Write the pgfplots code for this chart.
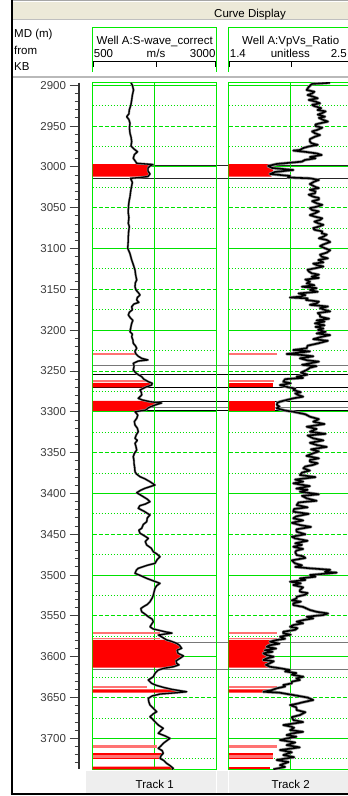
\documentclass[border=0pt]{standalone}
\usepackage{pgfplots}
\usepackage{pgfplotstable}
\pgfplotsset{compat=1.18}
\usepackage{fontspec}
\setmainfont{Liberation Sans}

\definecolor{gridgreen}{RGB}{0,225,0}
\definecolor{framegreen}{RGB}{0,235,0}
\definecolor{flagred}{RGB}{255,0,0}
\definecolor{lightred}{RGB}{255,115,115}
\definecolor{barbeige}{RGB}{236,233,216}
\definecolor{labgray}{RGB}{60,60,60}
\definecolor{markgray}{RGB}{120,120,120}
\definecolor{footgray}{RGB}{238,238,238}
\definecolor{halogray}{RGB}{150,150,150}

% S-wave velocity (m/s) against measured depth (m)
\pgfplotstableread{
depth vs
2897 1272
2900 1300
2905.8 1323
2912 1300
2918 1286
2924 1270
2930.3 1238
2935 1230
2938.5 1185
2942 1230
2946.6 1252
2952 1240
2958.8 1252
2964 1275
2969.1 1286
2974.4 1272
2978 1330
2981.4 1403
2985 1340
2989.5 1318
2993 1360
2995.6 1387
2997.1 1716
2998.9 1655
3001.3 1615
3005 1615
3008.7 1655
3011.8 1615
3013 1454
3014 1262
3019 1300
3024.3 1282
3030 1265
3036.5 1252
3040.5 1238
3046 1225
3052.8 1218
3056.8 1218
3062 1230
3069.1 1218
3073.3 1238
3079 1225
3085.5 1218
3092 1215
3099.7 1206
3106 1250
3114 1286
3120 1320
3126.3 1353
3132 1365
3138.5 1387
3142 1360
3146.8 1353
3150.8 1373
3154 1420
3156.9 1454
3160 1400
3163 1387
3166 1430
3168 1330
3171.3 1286
3175 1300
3178 1240
3181.4 1218
3185 1260
3188 1310
3191.6 1286
3196 1270
3201.9 1252
3205 1300
3208 1286
3212 1310
3216.1 1318
3219 1360
3222.2 1387
3226 1350
3229.2 1373
3232 1420
3234.5 1488
3236.5 1615
3237.8 1419
3240.6 1318
3244 1335
3248.8 1318
3253 1380
3257 1488
3260 1530
3263.1 1621
3265 1700
3267.2 1689
3270 1560
3273.3 1454
3276 1480
3279.4 1488
3283.5 1419
3285.5 1500
3287.6 1655
3289.2 1891
3291.7 1756
3293.5 1680
3295.3 1615
3297.8 1575
3299.9 1353
3304 1410
3308 1387
3312 1340
3316.2 1353
3320 1400
3324.4 1419
3328 1380
3332.5 1353
3335 1400
3338.6 1353
3342 1370
3346.8 1387
3351 1340
3355 1318
3359 1330
3363.1 1333
3368 1345
3373.4 1353
3376 1380
3379.5 1454
3382 1550
3385.6 1655
3389.7 1756
3393.7 1554
3396 1470
3399.1 1387
3401 1440
3404 1520
3407 1600
3410.1 1655
3413 1560
3415 1450
3418.2 1419
3422 1540
3426.4 1655
3430 1600
3434.6 1589
3438 1520
3442.7 1488
3445 1430
3448.8 1454
3451 1520
3455 1621
3459 1560
3463.2 1589
3467 1680
3471.4 1722
3474 1790
3477.5 1857
3481 1800
3485.6 1756
3488 1600
3491.7 1419
3494 1380
3497.8 1353
3501 1480
3504 1589
3507 1720
3510.1 1857
3513 1790
3516.2 1756
3520 1740
3524.4 1722
3528 1700
3532.6 1655
3536 1600
3538.8 1520
3541 1470
3544.9 1488
3548 1560
3551 1621
3554 1700
3557.1 1722
3560 1690
3563.3 1655
3566 1720
3569.4 1958
3571 2099
3573.4 1822
3576 1900
3579.5 1992
3581 2080
3583.6 2193
3586 2250
3589.7 2294
3592 2200
3595.8 2220
3599 2330
3602 2260
3605 2180
3608.1 2193
3610 2240
3612.3 2125
3614 1950
3616.3 1822
3620 1760
3624.5 1722
3628.5 1621
3632.6 1689
3635 1780
3637.5 1923
3640 2100
3642.9 2395
3644.3 2150
3645.7 1857
3648 1700
3651 1621
3655 1630
3659.2 1655
3663 1720
3667.4 1790
3670 1720
3673.5 1655
3676 1700
3679.6 1756
3684 1830
3687.7 1923
3690 1880
3693.8 1822
3697 1960
3700 2058
3703 1990
3706.1 1923
3709 1880
3712.2 1822
3715 1900
3718.3 1923
3721 1880
3724.5 1857
3727 1930
3730.6 1992
3733 2050
3736.7 2125
3737.9 2100
}\swave

% Vp/Vs ratio against measured depth (m)
\pgfplotstableread{
depth vpvs
2897 2.299
2898.4 2.139
2902 2.110
2905.8 2.092
2908 2.160
2910 2.140
2912 2.100
2914 2.150
2916 2.190
2918 2.110
2920 2.170
2922.1 2.210
2924 2.140
2925.4 2.157
2928 2.220
2930.3 2.188
2932 2.260
2934 2.230
2936 2.190
2938.5 2.254
2940 2.200
2942.5 2.239
2944.5 2.280
2946.6 2.210
2948 2.170
2950 2.170
2952 2.230
2954.8 2.183
2956.5 2.140
2958.8 2.165
2961 2.210
2963 2.165
2966 2.120
2969.1 2.121
2971.1 2.136
2973 2.190
2975 2.110
2977 2.060
2979.3 2.032
2980 1.973
2981.7 2.086
2983.5 2.180
2985.4 2.225
2987.9 2.121
2989.5 2.170
2991.5 2.077
2993.6 2.048
2996.4 1.828
2998.9 1.749
3001.3 1.784
3003.8 1.973
3006.2 1.811
3008.7 1.766
3011.1 1.944
3013 1.926
3014 2.121
3016 2.200
3018 2.160
3021 2.120
3024.3 2.165
3026 2.200
3028 2.120
3030 2.170
3032.3 2.165
3034 2.110
3036.5 2.150
3038 2.200
3040 2.200
3042 2.140
3044.6 2.181
3046.5 2.230
3048.8 2.181
3050.5 2.120
3052.8 2.140
3054.5 2.200
3056.8 2.165
3059 2.120
3061 2.165
3063 2.230
3065 2.210
3067 2.160
3069.1 2.195
3071 2.240
3073.3 2.195
3075 2.150
3077 2.160
3079 2.230
3081.3 2.225
3083 2.270
3085.5 2.239
3087.5 2.200
3089.5 2.269
3092 2.300
3095 2.240
3097 2.210
3099.7 2.254
3102 2.300
3105 2.270
3107.5 2.210
3110 2.225
3112 2.280
3114 2.195
3117 2.240
3118.5 2.150
3120.2 2.181
3122 2.240
3124.2 2.165
3126 2.100
3128 2.110
3130.3 2.136
3132 2.200
3134.5 2.136
3136 2.200
3138 2.080
3140.6 2.121
3142.6 2.092
3145 2.160
3146.8 2.050
3148.5 2.180
3150.8 2.121
3153 2.190
3155 2.020
3157 2.080
3159 2.032
3160 1.944
3161 2.100
3163 2.086
3165 2.200
3167.1 2.181
3169 2.120
3171 2.280
3173 2.210
3175.3 2.254
3177 2.300
3179 2.190
3181.4 2.210
3183.5 2.210
3186 2.290
3188 2.180
3189.5 2.250
3191.6 2.165
3194 2.250
3196 2.170
3198 2.240
3199.8 2.192
3202 2.260
3204 2.180
3206 2.300
3208 2.228
3211 2.150
3213 2.280
3216.1 2.195
3219 2.100
3222.2 2.092
3224.3 1.973
3226 2.120
3229.2 1.914
3230.4 2.048
3232 2.150
3234.5 2.032
3237 2.100
3238.5 2.200
3240.6 2.121
3242.5 2.050
3244 2.180
3246 2.120
3248.8 2.092
3252 2.040
3254.5 2.100
3257 2.003
3258.5 2.060
3260 1.900
3263.1 1.884
3265 1.950
3267.2 1.855
3270 1.930
3271.5 1.990
3273.3 1.973
3276 2.040
3277.5 1.990
3279.4 2.017
3281.5 2.060
3283.5 1.973
3286 1.900
3287.6 1.855
3289 1.830
3291.7 1.828
3293.5 1.850
3295.7 1.826
3298.4 1.899
3299.9 1.973
3303 2.080
3306 2.121
3309 2.200
3312.1 2.150
3315 2.250
3318.3 2.092
3321 2.180
3324.4 2.121
3327 2.260
3329 2.100
3332.5 2.150
3335 2.240
3338 2.120
3340.7 2.181
3343 2.270
3346 2.130
3348.5 2.200
3350.8 2.150
3354 2.090
3357 2.200
3359 2.120
3361.1 2.121
3363 2.190
3365 2.150
3367 2.080
3369.2 2.062
3372 2.120
3374.5 2.050
3377.4 2.032
3380 2.170
3383 1.990
3385.5 2.060
3387.6 1.973
3391 2.120
3394 2.000
3395.5 2.100
3397.9 2.032
3401 2.200
3403 2.050
3406 2.092
3409 2.180
3411 2.020
3414.2 2.003
3417 2.100
3419 1.980
3422.4 1.973
3425 2.110
3428 2.000
3430.5 1.973
3433 2.060
3436 1.960
3438.7 2.032
3441 2.130
3444 2.000
3446.9 2.003
3450 2.080
3453 1.960
3455 1.988
3458 2.100
3461 1.990
3463 2.050
3465.3 1.973
3468 2.060
3470 2.000
3472 1.990
3475.4 2.003
3477 2.060
3479 2.080
3482 1.960
3485.6 1.988
3488 2.050
3490 1.990
3491.7 2.121
3493.5 2.300
3495.9 2.254
3497 2.358
3499.9 2.121
3502 2.170
3504 2.032
3506 2.080
3508.1 1.944
3510 2.040
3512.2 1.973
3515 2.060
3518.3 2.032
3520.4 2.032
3522 2.100
3524 2.080
3526.5 2.003
3528.5 2.003
3531 1.960
3532.5 2.040
3534.6 1.973
3536.7 1.973
3539 2.060
3542.8 2.121
3545 2.181
3547 2.281
3548.9 2.239
3551 2.092
3553 2.150
3555.1 2.062
3557.1 2.003
3559 2.060
3561.2 1.973
3563.3 1.944
3565 2.010
3567 1.990
3569.4 1.884
3571.3 1.884
3573 1.950
3575.5 1.855
3578 1.900
3579.5 1.826
3581.6 1.766
3584 1.850
3586 1.760
3587.8 1.737
3590 1.820
3592 1.720
3594 1.790
3595.8 1.707
3597.9 1.737
3600 1.800
3602 1.737
3604 1.707
3605.5 1.800
3607 1.780
3610 1.730
3612.3 1.766
3614 1.850
3616.3 1.944
3618 1.900
3620 2.000
3622 1.960
3624.5 2.062
3626.5 2.000
3628.5 2.032
3630.5 1.960
3632.6 1.960
3634.7 1.884
3636.5 1.900
3638.7 1.826
3641 1.780
3642.9 1.707
3644 1.850
3646.9 1.973
3650 2.100
3653 2.150
3656 2.050
3657.5 2.010
3659.2 1.944
3662 2.000
3665.3 2.003
3668 2.080
3671.4 2.032
3674 1.960
3677.5 1.973
3680 2.060
3683.7 1.884
3685.5 1.950
3687 1.980
3689.8 1.944
3692 2.060
3694 1.960
3695.9 1.914
3698 2.000
3700 1.920
3702 1.855
3705 1.990
3708.2 1.914
3711 2.030
3714.3 1.855
3717 1.960
3720.4 1.884
3723 1.980
3726.5 1.826
3729 1.930
3732.7 1.855
3735 1.900
3737.9 1.796
}\vpvs

\pgfplotsset{
  depthrange/.style={
    scale only axis, height=686.6pt,
    ymin=2896.9, ymax=3737.9, y dir=reverse,
  },
  track/.style={
    depthrange, width=124pt,
    axis line style={framegreen, line width=1.4pt},
    ytick={2900,3000,...,3700}, yticklabels={},
    minor ytick={2950,3050,...,3650},
    extra y ticks={2925,2975,...,3725}, extra y tick labels={},
    ymajorgrids, yminorgrids, xmajorgrids,
    major grid style={gridgreen, line width=1pt},
    minor grid style={gridgreen, line width=0.9pt, dash pattern=on 4pt off 2pt},
    extra y tick style={grid=major, major grid style={gridgreen, line width=0.9pt, dash pattern=on 1pt off 2pt}},
    major tick length=0pt, minor tick length=0pt,
    xticklabels={},
  },
  curve/.style={black, line width=1.3pt, mark=none, line join=round},
  halo/.style={halogray, line width=2.6pt, mark=none, line join=round},
}

\begin{document}
\begin{tikzpicture}[font=\fontsize{11.5}{13}\selectfont]
\useasboundingbox (0pt,0pt) rectangle (348pt,-796pt);
\clip (0pt,0pt) rectangle (348pt,-796pt);

% title bar
\fill[barbeige] (12pt,-1.5pt) rectangle (348pt,-19.5pt);
\draw[gray!70, line width=1.2pt] (12pt,-0.8pt) -- (348pt,-0.8pt);
\draw[gray!50, line width=0.6pt] (12pt,-19.5pt) -- (348pt,-19.5pt);
\node[anchor=base, inner sep=0pt] at (250pt,-17.3pt) {Curve Display};

% depth column heading
\node[anchor=base west, inner sep=0pt] at (14pt,-37.3pt) {MD (m)};
\node[anchor=base west, inner sep=0pt] at (14pt,-54.3pt) {from};
\node[anchor=base west, inner sep=0pt] at (14pt,-70.5pt) {KB};

% track headings
\draw[framegreen, line width=1.4pt] (92.7pt,-72pt) -- (92.7pt,-27.3pt) -- (216.7pt,-27.3pt) -- (216.7pt,-72pt);
\node[anchor=base, inner sep=0pt] at (154.7pt,-44.5pt) {Well A:S-wave\_correct};
\node[anchor=base west, inner sep=0pt] at (93.7pt,-57.3pt) {500};
\node[anchor=base, inner sep=0pt] at (156pt,-57.3pt) {m/s};
\node[anchor=base east, inner sep=0pt] at (215.7pt,-57.3pt) {3000};
\draw[black, line width=0.8pt] (93.7pt,-67pt) -- (93.7pt,-61.7pt) -- (215.7pt,-61.7pt) -- (215.7pt,-67pt);
\draw[black, line width=0.8pt] (156pt,-61.7pt) -- (156pt,-66.5pt);

\draw[framegreen, line width=1.4pt] (228.7pt,-72pt) -- (228.7pt,-27.3pt) -- (352.7pt,-27.3pt) -- (352.7pt,-72pt);
\node[anchor=base, inner sep=0pt] at (290.7pt,-44.5pt) {Well A:VpVs\_Ratio};
\node[anchor=base west, inner sep=0pt] at (229.7pt,-57.3pt) {1.4};
\node[anchor=base, inner sep=0pt] at (290.3pt,-57.3pt) {unitless};
\node[anchor=base east, inner sep=0pt] at (347pt,-57.3pt) {2.5};
\draw[black, line width=0.8pt] (229.7pt,-67pt) -- (229.7pt,-61.7pt) -- (351.7pt,-61.7pt) -- (351.7pt,-67pt);
\draw[black, line width=0.8pt] (291.7pt,-61.7pt) -- (291.7pt,-66.5pt);

\draw[gray!55, line width=2pt] (12pt,-77pt) -- (348pt,-77pt);

% footer
\fill[footgray] (86pt,-771pt) rectangle (348pt,-792.5pt);
\draw[white, line width=1pt] (216.7pt,-771pt) -- (216.7pt,-792.5pt);
\draw[white, line width=1pt] (228.7pt,-771pt) -- (228.7pt,-792.5pt);
\node[anchor=base, inner sep=0pt] at (154.7pt,-788pt) {Track 1};
\node[anchor=base, inner sep=0pt] at (290.7pt,-788pt) {Track 2};

% frame
\draw[black, line width=2pt] (11.5pt,0pt) -- (11.5pt,-794.5pt);
\draw[black, line width=2pt] (10.5pt,-793.5pt) -- (348pt,-793.5pt);

% depth scale
\begin{axis}[depthrange, at={(79pt,-82.7pt)}, anchor=north west, width=10pt,
  xmin=0, xmax=1, axis x line=none, axis y line*=left,
  y axis line style={-, line width=1.8pt, color=black!80},
  ytick={2900,2950,...,3700}, minor ytick={2900,2910,...,3730},
  tick align=outside, major tick length=9.5pt, minor tick length=4.5pt,
  tick style={black!75, line width=0.9pt},
  yticklabel style={text=labgray, font=\fontsize{11.5}{13}\selectfont},
  /pgf/number format/.cd, 1000 sep={}, assume math mode=true]
\end{axis}

% formation markers across both tracks
\begin{axis}[depthrange, at={(92.7pt,-82.7pt)}, anchor=north west, width=260pt,
  xmin=0, xmax=1, hide axis]
\addplot[black!85, line width=0.9pt] coordinates {(0,2998.5) (1,2998.5)};
\addplot[black!85, line width=0.9pt] coordinates {(0,3014.5) (1,3014.5)};
\addplot[markgray, line width=1pt] coordinates {(0,3243.5) (1,3243.5)};
\addplot[black, line width=0.9pt] coordinates {(0,3254) (1,3254)};
\addplot[black, line width=0.9pt] coordinates {(0,3270) (1,3270)};
\addplot[black, line width=0.7pt] coordinates {(0,3287.6) (1,3287.6)};
\addplot[markgray, line width=1pt] coordinates {(0,3294.5) (1,3294.5)};
\addplot[black, line width=0.9pt] coordinates {(0,3298.4) (1,3298.4)};
\addplot[markgray, line width=1.2pt] coordinates {(0,3582.8) (1,3582.8)};
\addplot[markgray, line width=1.2pt] coordinates {(0,3615.5) (1,3615.5)};
\end{axis}

% Track 1: S-wave velocity
\begin{axis}[track, at={(92.7pt,-82.7pt)}, anchor=north west,
  xmin=500, xmax=3000, xtick={1750}]
\addplot[fill=flagred, draw=none] coordinates {(500,2996.6) (1716,2996.6) (1716,2997.1) (1655,2998.9) (1615,3001.3) (1615,3005) (1655,3008.7) (1615,3011.8) (500,3011.8)};
\addplot[fill=lightred, draw=none] coordinates {(500,3227.5) (1387,3227.5) (1387,3230) (500,3230)};
\addplot[fill=lightred, draw=none] coordinates {(500,3261.5) (1589,3261.5) (1589,3263.5) (500,3263.5)};
\addplot[fill=flagred, draw=none] coordinates {(500,3264.5) (1650,3264.5) (1689,3267.2) (1600,3270) (500,3270)};
\addplot[fill=flagred, draw=none] coordinates {(500,3286.5) (1620,3286.5) (1655,3287.6) (1891,3289.2) (1756,3291.7) (1615,3295.3) (1575,3297.8) (1500,3298.8) (500,3298.8)};
\addplot[fill=lightred, draw=none] coordinates {(500,3570) (1857,3570) (1857,3571.7) (500,3571.7)};
\addplot[fill=lightred, draw=none] coordinates {(500,3576.8) (1857,3576.8) (1857,3578.4) (500,3578.4)};
\addplot[fill=flagred, draw=none] coordinates {(500,3579.5) (1992,3579.5) (2080,3581) (2193,3583.6) (2250,3586) (2294,3589.7) (2200,3592) (2220,3595.8) (2330,3599) (2260,3602) (2180,3605) (2193,3608.1) (2240,3610) (2125,3612.3) (2000,3613.2) (500,3613.2)};
\addplot[fill=lightred, draw=none] coordinates {(500,3636.3) (1589,3636.3) (1589,3638) (500,3638)};
\addplot[fill=flagred, draw=none] coordinates {(500,3640) (2100,3640) (2395,3642.9) (2150,3644.1) (500,3644.1)};
\addplot[fill=lightred, draw=none] coordinates {(500,3708.2) (1790,3708.2) (1790,3712.2) (500,3712.2)};
\addplot[fill=flagred, draw=none] coordinates {(500,3718.3) (1900,3718.3) (1900,3720.8) (500,3720.8)};
\addplot[fill=lightred, draw=none] coordinates {(500,3720.8) (1880,3720.8) (1880,3723.6) (500,3723.6)};
\addplot[fill=flagred, draw=none] coordinates {(500,3723.6) (1857,3723.6) (1857,3725.6) (500,3725.6)};
\addplot[fill=flagred, draw=none] coordinates {(500,3734.7) (2100,3734.7) (2125,3736.7) (2100,3737.9) (500,3737.9)};
\addplot[halo, line width=2.3pt] table[x=vs, y=depth] {\swave};
\addplot[curve] table[x=vs, y=depth] {\swave};
\end{axis}

% Track 2: Vp/Vs ratio
\begin{axis}[track, at={(228.7pt,-82.7pt)}, anchor=north west,
  xmin=1.4, xmax=2.5, xtick={1.95}]
\addplot[fill=flagred, draw=none] coordinates {(1.4,2996.6) (1.826,2996.6) (1.826,2997.5) (1.749,2998.9) (1.784,3001.3) (1.80,3006) (1.766,3008.7) (1.78,3011.8) (1.4,3011.8)};
\addplot[fill=lightred, draw=none] coordinates {(1.4,3227.5) (1.826,3227.5) (1.826,3230) (1.4,3230)};
\addplot[fill=lightred, draw=none] coordinates {(1.4,3261.5) (1.80,3261.5) (1.80,3263.5) (1.4,3263.5)};
\addplot[fill=flagred, draw=none] coordinates {(1.4,3264.5) (1.796,3264.5) (1.796,3270) (1.4,3270)};
\addplot[fill=flagred, draw=none] coordinates {(1.4,3286.5) (1.811,3286.5) (1.811,3298.8) (1.4,3298.8)};
\addplot[fill=lightred, draw=none] coordinates {(1.4,3570) (1.826,3570) (1.826,3571.7) (1.4,3571.7)};
\addplot[fill=lightred, draw=none] coordinates {(1.4,3576.8) (1.826,3576.8) (1.826,3578.4) (1.4,3578.4)};
\addplot[fill=flagred, draw=none] coordinates {(1.4,3579.5) (1.826,3579.5) (1.766,3581.6) (1.850,3584) (1.760,3586) (1.737,3587.8) (1.820,3590) (1.720,3592) (1.707,3595.8) (1.737,3597.9) (1.800,3600) (1.737,3602) (1.707,3604) (1.780,3607) (1.730,3610) (1.766,3612.3) (1.80,3613.2) (1.4,3613.2)};
\addplot[fill=lightred, draw=none] coordinates {(1.4,3636.3) (1.826,3636.3) (1.826,3638) (1.4,3638)};
\addplot[fill=flagred, draw=none] coordinates {(1.4,3640) (1.79,3640) (1.707,3642.9) (1.80,3644.1) (1.4,3644.1)};
\addplot[fill=lightred, draw=none] coordinates {(1.4,3708.2) (1.826,3708.2) (1.826,3712.2) (1.4,3712.2)};
\addplot[fill=flagred, draw=none] coordinates {(1.4,3718.3) (1.796,3718.3) (1.796,3720.8) (1.4,3720.8)};
\addplot[fill=lightred, draw=none] coordinates {(1.4,3720.8) (1.796,3720.8) (1.796,3723.6) (1.4,3723.6)};
\addplot[fill=flagred, draw=none] coordinates {(1.4,3723.6) (1.796,3723.6) (1.796,3725.6) (1.4,3725.6)};
\addplot[fill=flagred, draw=none] coordinates {(1.4,3734.7) (1.766,3734.7) (1.766,3737.9) (1.4,3737.9)};
\addplot[halo, line width=3pt] table[x=vpvs, y=depth] {\vpvs};
\addplot[curve, line width=1.6pt] table[x=vpvs, y=depth] {\vpvs};
\end{axis}
\end{tikzpicture}
\end{document}
